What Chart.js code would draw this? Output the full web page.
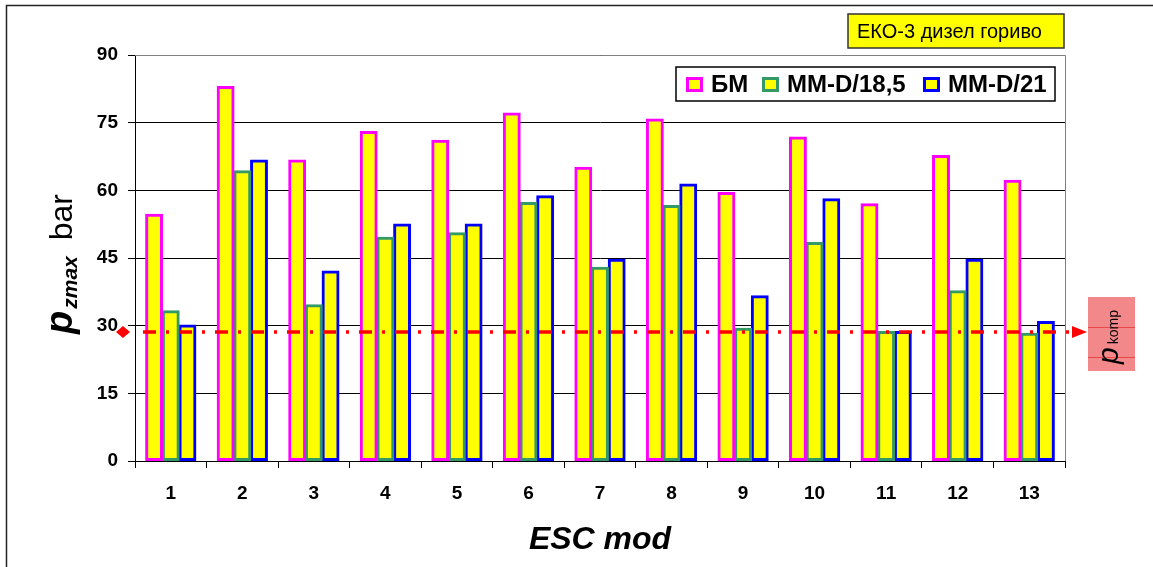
<!DOCTYPE html>
<html>
<head>
<meta charset="utf-8">
<script src="https://cdn.jsdelivr.net/npm/chart.js@4.4.0/dist/chart.umd.min.js"></script>
<style>
  html, body { margin: 0; padding: 0; background: #fff; }
</style>
</head>
<body>
<canvas id="myChart" width="1153" height="567"></canvas>
<script>
// ESC test modes and peak cylinder pressure per fuel/engine variant
let modes = ['1', '2', '3', '4', '5', '6', '7', '8', '9', '10', '11', '12', '13'];
let seriesNames = ['БМ', 'MM-D/18,5', 'MM-D/21'];
let bm = [54.7, 83.0, 66.7, 73.0, 71.1, 77.1, 65.1, 75.8, 59.5, 71.8, 57.0, 67.7, 62.2];
let mmd185 = [33.3, 64.3, 34.6, 49.6, 50.6, 57.3, 42.9, 56.6, 29.4, 48.4, 28.7, 37.7, 28.3];
let mmd21 = [30.1, 66.7, 42.1, 52.5, 52.5, 58.8, 44.7, 61.4, 36.6, 58.1, 28.7, 44.7, 30.9];
let yMin = 0, yMax = 90, yStep = 15;
let pKomp = 28.6; // compression pressure level

const FONT = '"Liberation Sans", Arial, sans-serif';
const edgeColors = ['#ff00ff', '#339966', '#0000ff'];

// frame, titles, red pkomp line, legend
const extras = {
    id: 'extras',
    beforeDatasetsDraw(chart) {
        const { ctx, chartArea: a } = chart;
        ctx.save();
        ctx.strokeStyle = '#808080';
        ctx.lineWidth = 1;
        ctx.beginPath();
        ctx.moveTo(a.left, a.top + 0.5);
        ctx.lineTo(a.right + 0.5, a.top + 0.5);
        ctx.lineTo(a.right + 0.5, a.bottom);
        ctx.stroke();
        ctx.restore();
    },
    afterDatasetsDraw(chart) {
        const { ctx } = chart;
        const y = Math.round(chart.scales.y.getPixelForValue(pKomp));
        ctx.save();
        ctx.strokeStyle = '#ff0000';
        ctx.fillStyle = '#ff0000';
        ctx.lineWidth = 3.5;
        ctx.setLineDash([13, 10, 3, 10]);
        ctx.beginPath();
        ctx.moveTo(143, y);
        ctx.lineTo(1074, y);
        ctx.stroke();
        ctx.setLineDash([]);
        // diamond at the axis
        ctx.beginPath();
        ctx.moveTo(123, y - 6);
        ctx.lineTo(130, y);
        ctx.lineTo(123, y + 6);
        ctx.lineTo(116, y);
        ctx.closePath();
        ctx.fill();
        // arrow head
        ctx.beginPath();
        ctx.moveTo(1072, y - 6);
        ctx.lineTo(1087, y);
        ctx.lineTo(1072, y + 6);
        ctx.closePath();
        ctx.fill();
        ctx.restore();
    },
    afterDraw(chart) {
        const { ctx, chartArea: a } = chart;
        ctx.save();

        // outer frame
        ctx.strokeStyle = '#222';
        ctx.lineWidth = 1.5;
        ctx.strokeRect(6.5, 5.5, 1200, 600);

        // fuel label
        ctx.fillStyle = '#ffff00';
        ctx.fillRect(848, 14, 216, 34);
        ctx.strokeStyle = '#333';
        ctx.lineWidth = 1.5;
        ctx.strokeRect(848, 14, 216, 34);
        ctx.fillStyle = '#000';
        ctx.font = '20px ' + FONT;
        ctx.textBaseline = 'middle';
        ctx.textAlign = 'left';
        ctx.fillText('ЕКО-3 дизел гориво', 857, 32);

        // legend
        ctx.fillStyle = '#fff';
        ctx.fillRect(676, 67, 379, 34);
        ctx.strokeStyle = '#000';
        ctx.lineWidth = 1.5;
        ctx.strokeRect(676, 67, 379, 34);
        const swX = [686, 762, 923];
        ctx.font = 'bold 24px ' + FONT;
        seriesNames.forEach((name, i) => {
            ctx.fillStyle = '#ffff00';
            ctx.fillRect(swX[i], 77, 17, 15);
            ctx.strokeStyle = edgeColors[i];
            ctx.lineWidth = 3;
            ctx.strokeRect(swX[i] + 1.5, 77 + 1.5, 14, 12);
            ctx.fillStyle = '#000';
            ctx.fillText(name, swX[i] + 25, 85);
        });

        // y axis title: p_zmax  bar
        ctx.save();
        ctx.translate(72, 334);
        ctx.rotate(-Math.PI / 2);
        ctx.textBaseline = 'alphabetic';
        ctx.fillStyle = '#000';
        ctx.font = 'italic bold 38px ' + FONT;
        ctx.fillText('p', 0, 0);
        let x = ctx.measureText('p').width + 2;
        ctx.font = 'italic bold 21px ' + FONT;
        ctx.fillText('zmax', x, 5);
        x += ctx.measureText('zmax').width + 16;
        ctx.font = '32px ' + FONT;
        ctx.fillText('bar', x, 0);
        ctx.restore();

        // x axis title
        ctx.font = 'italic bold 32px ' + FONT;
        ctx.textAlign = 'center';
        ctx.textBaseline = 'middle';
        ctx.fillText('ESC mod', (a.left + a.right) / 2, 540);

        // pkomp tag
        ctx.fillStyle = '#f3888a';
        ctx.fillRect(1088, 297, 47, 74);
        ctx.strokeStyle = '#e84848';
        ctx.lineWidth = 1;
        ctx.beginPath();
        ctx.moveTo(1088, 327.5); ctx.lineTo(1135, 327.5);
        ctx.moveTo(1088, 357.5); ctx.lineTo(1135, 357.5);
        ctx.stroke();
        ctx.save();
        ctx.translate(1118, 364);
        ctx.rotate(-Math.PI / 2);
        ctx.textAlign = 'left';
        ctx.textBaseline = 'alphabetic';
        ctx.fillStyle = '#000';
        ctx.font = 'italic 30px ' + FONT;
        ctx.fillText('p', 0, 0);
        let px = ctx.measureText('p').width + 3;
        ctx.font = '14px ' + FONT;
        ctx.fillText('komp', px, 0);
        ctx.restore();

        ctx.restore();
    }
};

const ctx = document.getElementById('myChart');

new Chart(ctx, {
    type: 'bar',
    data: {
        labels: modes,
        datasets: [bm, mmd185, mmd21].map((vals, i) => ({
            label: seriesNames[i],
            data: vals,
            backgroundColor: '#ffff00',
            borderColor: edgeColors[i],
            borderWidth: 3,
            borderSkipped: false,
            inflateAmount: 0.6,
            categoryPercentage: 0.7,
            barPercentage: 1.0
        }))
    },
    options: {
        responsive: false,
        animation: false,
        devicePixelRatio: 1,
        layout: { padding: { left: 0, top: 55, right: 88, bottom: 0 } },
        plugins: {
            legend: { display: false },
            tooltip: { enabled: false }
        },
        scales: {
            x: {
                afterFit: (s) => { s.height = 106; },
                grid: { display: true, drawOnChartArea: false, drawTicks: true, tickLength: 7, color: '#000', offset: true },
                border: { color: '#000', width: 1 },
                ticks: { color: '#000', font: { family: FONT, size: 19, weight: 'bold' }, padding: 14 }
            },
            y: {
                min: yMin,
                max: yMax,
                afterFit: (s) => { s.width = 135; },
                grid: { color: '#000', lineWidth: 1, tickLength: 7 },
                border: { color: '#000', width: 1 },
                ticks: { stepSize: yStep, color: '#000', font: { family: FONT, size: 19, weight: 'bold' }, padding: 10 }
            }
        }
    },
    plugins: [extras]
});
</script>
</body>
</html>
